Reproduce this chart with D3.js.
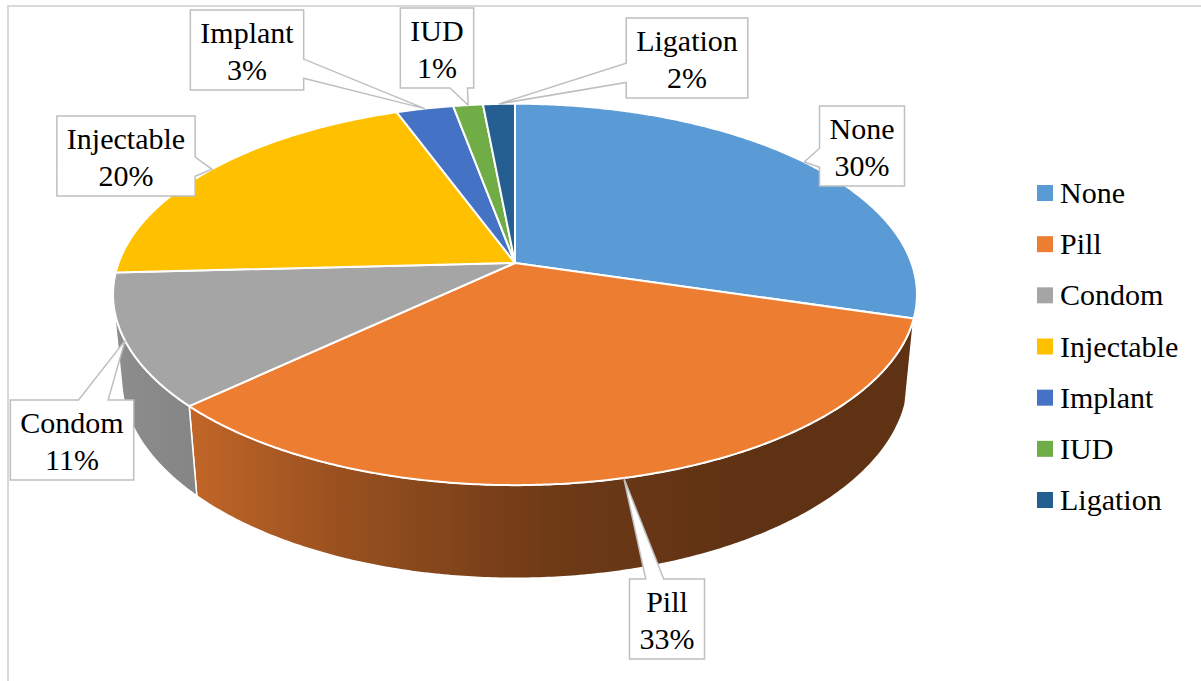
<!DOCTYPE html>
<html>
<head>
<meta charset="utf-8">
<script src="https://cdn.jsdelivr.net/npm/d3@7"></script>
<style>
  html, body { margin: 0; padding: 0; background: #fff; }
  svg { display: block; }
  svg text { font-family: "Liberation Serif", "Times New Roman", Tinos, "DejaVu Serif", serif; }
</style>
</head>
<body>
<svg id="chart" width="1201" height="681"></svg>
<script>
const categories = ["None", "Pill", "Condom", "Injectable", "Implant", "IUD", "Ligation"];
const shares = [29.6, 33.4, 11.2, 20.2, 2.7, 1.4, 1.5];
const percentLabels = ["30%", "33%", "11%", "20%", "3%", "1%", "2%"];
const sliceColors = ["#5b9bd5", "#ed7d31", "#a5a5a5", "#ffc000", "#4472c4", "#70ad47", "#255e91"];

// where the data label boxes sit (centre), same order as categories
const labelCenters = [[862, 146], [667, 619], [72, 440], [126, 156], [247, 50], [437, 48], [687, 58]];

const W = 1201, H = 681;
const CX = 515, CY = 263;
const TILT = 27.9 * Math.PI / 180;
const DIST = 5.36, FOCAL = 2125, THICK = 0.241;
const FONT = 30;
const FONT_FAMILY = '"Liberation Serif", "Times New Roman", Tinos, "DejaVu Serif", serif';

const svg = d3.select("#chart");

// perspective projection of a point on the pie rim (r=1) or centre (r=0)
function project(phi, z, r = 1) {
  const u = r * Math.sin(phi), v = -r * Math.cos(phi);
  const Z = -THICK * z;
  const depth = DIST - (v * Math.cos(TILT) + Z * Math.sin(TILT));
  return [CX + FOCAL * u / depth, CY + FOCAL * (v * Math.sin(TILT) - Z * Math.cos(TILT)) / depth];
}

function samples(a0, a1, step) {
  const n = Math.max(2, Math.ceil((a1 - a0) / step));
  return d3.range(n + 1).map(i => a0 + (a1 - a0) * i / n);
}

const data = categories.map((c, i) => ({name: c, share: shares[i], label: percentLabels[i], color: sliceColors[i]}));
const arcs = d3.pie().sort(null).value(d => d.share).startAngle(0).endAngle(2 * Math.PI)(data);

// chart frame
svg.append("rect")
  .attr("x", 8).attr("y", 6).attr("width", 1210).attr("height", 700)
  .attr("fill", "none").attr("stroke", "#d9d9d9").attr("stroke-width", 2);

const line = d3.line();
const rad = d => d * Math.PI / 180;

// sides visible where the rim faces the camera
const vMin = 1 / (DIST * Math.cos(TILT));
const visA0 = Math.acos(-vMin), visA1 = 2 * Math.PI - visA0;

const shade = d3.scaleLinear()
  .domain([100, 150, 175, 225, 262].map(rad))
  .range([0.40, 0.40, 0.46, 0.81, 0.88])
  .clamp(true);

const defs = svg.append("defs");
const sides = svg.append("g");

arcs.forEach((a, i) => {
  const s0 = Math.max(a.startAngle, visA0), s1 = Math.min(a.endAngle, visA1);
  if (s1 <= s0) return;
  const angs = samples(s0, s1, rad(0.5));
  const top = angs.map(p => project(p, 0));
  const bot = angs.map(p => project(p, 1)).reverse();

  const xs = top.map(p => p[0]);
  const xL = d3.min(xs), xR = d3.max(xs);
  const base = d3.rgb(a.data.color);
  const grad = defs.append("linearGradient")
    .attr("id", "side" + i)
    .attr("gradientUnits", "userSpaceOnUse")
    .attr("x1", xL).attr("x2", xR).attr("y1", 0).attr("y2", 0);
  const stops = samples(s0, s1, rad(4)).map(p => {
    const f = shade(p);
    return {
      off: (project(p, 0)[0] - xL) / (xR - xL || 1),
      col: d3.rgb(base.r * f, base.g * f, base.b * f).formatHex()
    };
  }).sort((m, n) => m.off - n.off);
  grad.selectAll("stop").data(stops).enter().append("stop")
    .attr("offset", d => d.off)
    .attr("stop-color", d => d.col);

  sides.append("path")
    .attr("d", line(top.concat(bot)) + "Z")
    .attr("fill", `url(#side${i})`)
    .attr("stroke", "#fff")
    .attr("stroke-width", 1.5)
    .attr("stroke-linejoin", "round");
});

// top faces
svg.append("g").selectAll("path")
  .data(arcs).enter()
  .append("path")
  .attr("d", a => {
    const pts = [project(0, 0, 0)].concat(samples(a.startAngle, a.endAngle, rad(0.5)).map(p => project(p, 0)));
    return line(pts) + "Z";
  })
  .attr("fill", a => a.data.color)
  .attr("stroke", "#fff")
  .attr("stroke-width", 2)
  .attr("stroke-linejoin", "round");

// callout path: rectangle with a wedge pointing at the tip
function calloutPath(bx, by, w, h, tip) {
  const x0 = bx - w / 2, x1 = bx + w / 2, y0 = by - h / 2, y1 = by + h / 2;
  const dx = tip[0] - bx, dy = tip[1] - by;
  let edge, hit;
  const tx = (w / 2) / Math.abs(dx || 1e-6), ty = (h / 2) / Math.abs(dy || 1e-6);
  if (tx < ty) { edge = dx > 0 ? "right" : "left"; hit = by + dy * tx; }
  else { edge = dy > 0 ? "bottom" : "top"; hit = bx + dx * ty; }
  const inside = tip[0] > x0 && tip[0] < x1 && tip[1] > y0 && tip[1] < y1;
  const p = [[x0, y0]];
  if (!inside && edge === "top") {
    const hw = 0.12 * w, c = Math.max(x0 + hw, Math.min(x1 - hw, hit));
    p.push([c - hw, y0], tip, [c + hw, y0]);
  }
  p.push([x1, y0]);
  if (!inside && edge === "right") {
    const hw = 0.12 * h, c = Math.max(y0 + hw, Math.min(y1 - hw, hit));
    p.push([x1, c - hw], tip, [x1, c + hw]);
  }
  p.push([x1, y1]);
  if (!inside && edge === "bottom") {
    const hw = 0.12 * w, c = Math.max(x0 + hw, Math.min(x1 - hw, hit));
    p.push([c + hw, y1], tip, [c - hw, y1]);
  }
  p.push([x0, y1]);
  if (!inside && edge === "left") {
    const hw = 0.12 * h, c = Math.max(y0 + hw, Math.min(y1 - hw, hit));
    p.push([x0, c + hw], tip, [x0, c - hw]);
  }
  return line(p) + "Z";
}

const labels = svg.append("g");
arcs.forEach((a, i) => {
  const [bx, by] = labelCenters[i];
  const mid = (a.startAngle + a.endAngle) / 2;
  const tip = project(mid, 0);
  const g = labels.append("g");
  const box = g.append("path");
  const t1 = g.append("text")
    .attr("x", bx).attr("y", by - 7)
    .attr("text-anchor", "middle")
    .attr("font-family", FONT_FAMILY)
    .attr("font-size", FONT)
    .attr("fill", "#000")
    .text(a.data.name);
  const t2 = g.append("text")
    .attr("x", bx).attr("y", by + 30)
    .attr("text-anchor", "middle")
    .attr("font-family", FONT_FAMILY)
    .attr("font-size", FONT)
    .attr("fill", "#000")
    .text(a.data.label);
  const tw = Math.max(t1.node().getComputedTextLength(), t2.node().getComputedTextLength());
  box.attr("d", calloutPath(bx, by, tw + 20, 80, tip))
    .attr("fill", "#fff")
    .attr("stroke", "#bfbfbf")
    .attr("stroke-width", 1.5)
    .attr("stroke-linejoin", "miter");
});

// legend
const legY = d3.scaleLinear().domain([0, categories.length - 1]).range([193, 500]);
const legend = svg.append("g").selectAll("g")
  .data(data).enter()
  .append("g")
  .attr("transform", (d, i) => `translate(1037, ${legY(i)})`);
legend.append("rect")
  .attr("x", 0).attr("y", -8).attr("width", 16).attr("height", 16)
  .attr("fill", d => d.color);
legend.append("text")
  .attr("x", 23).attr("y", 10)
  .attr("font-family", FONT_FAMILY)
  .attr("font-size", FONT)
  .attr("fill", "#000")
  .text(d => d.name);
</script>
</body>
</html>
